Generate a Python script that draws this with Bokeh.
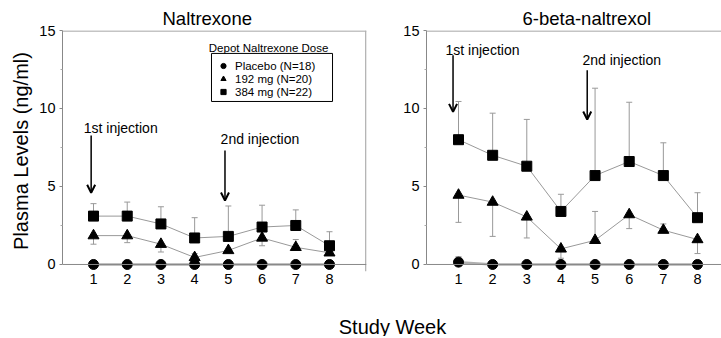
import math
import numpy as np
from bokeh.plotting import figure
from bokeh.models import (Range1d, Label, Arrow, OpenHead, Legend, LegendItem, FixedTicker, Span,
                          BoxAnnotation)
from bokeh.layouts import row, column
from bokeh.embed import file_html
from bokeh.resources import INLINE

nan = float("nan")
weeks = [1, 2, 3, 4, 5, 6, 7, 8]
x_tick_labels = ["1", "2", "3", "4", "5", "6", "7", "8"]
y_ticks = [0, 5, 10, 15]

# Naltrexone panel
nal_placebo = [0, 0, 0, 0, 0, 0, 0, 0]
nal_placebo_bar = [nan, nan, nan, nan, nan, nan, nan, nan]
nal_192 = [1.85, 1.85, 1.3, 0.45, 0.9, 1.7, 1.1, 0.75]
nal_192_bar = [1.3, 1.4, 0.8, 0.7, nan, 1.2, 1.6, nan]
nal_384 = [3.1, 3.1, 2.6, 1.7, 1.8, 2.4, 2.5, 1.2]
nal_384_bar = [3.9, 4.0, 3.7, 3.0, 3.75, 3.8, 3.5, 2.1]

# 6-beta-naltrexol panel
beta_placebo = [0.15, 0, 0, 0, 0, 0, 0, 0]
beta_placebo_bar = [0.5, nan, nan, nan, nan, nan, nan, nan]
beta_192 = [4.45, 4.0, 3.05, 1.0, 1.55, 3.2, 2.2, 1.6]
beta_192_bar = [2.7, 1.8, 1.7, 0.4, 3.4, 2.3, 2.6, 0.7]
beta_384 = [8.0, 7.0, 6.3, 3.4, 5.7, 6.6, 5.7, 3.0]
beta_384_bar = [10.45, 9.7, 9.3, 4.5, 11.3, 10.4, 7.8, 4.6]

legend_labels = ["Placebo (N=18)", "192 mg (N=20)", "384 mg (N=22)"]
FONT = "Liberation Sans"
GRAY = "#999999"
BORDER = "#b0b0b0"
AXIS = "#888888"


def make_panel(width, mbl, mbr, x0, x1, title, title_offset, right_border,
               placebo, placebo_bar, d192, d192_bar, d384, d384_bar):
    p = figure(width=width, height=300, x_range=Range1d(x0, x1), y_range=Range1d(-0.45, 15),
               min_border_left=mbl, min_border_right=mbr, min_border_top=30, min_border_bottom=29,
               toolbar_location=None, output_backend="svg")
    p.title.text = title
    p.title.align = "left"
    p.title.offset = title_offset
    p.title.standoff = 3
    p.title.text_font = FONT
    p.title.text_font_size = "18.5px"
    p.title.text_font_style = "normal"
    p.title.text_color = "black"
    p.xgrid.visible = False
    p.ygrid.visible = False
    p.outline_line_color = None
    p.background_fill_color = "white"
    p.border_fill_color = "white"
    p.add_layout(Span(location=14.97, dimension="width", line_color=BORDER, line_width=1.5))
    if right_border:
        p.add_layout(Span(location=x1 - 0.02, dimension="height", line_color=BORDER, line_width=1.5))
    # x axis line at zero
    p.add_layout(Span(location=0, dimension="width", line_color=AXIS, line_width=1))

    p.xaxis.ticker = FixedTicker(ticks=weeks, minor_ticks=[])
    p.xaxis.major_label_overrides = {w: l for w, l in zip(weeks, x_tick_labels)}
    p.xaxis.axis_line_color = None
    p.xaxis.major_tick_line_color = None
    p.xaxis.minor_tick_line_color = None
    p.xaxis.major_tick_in = 0
    p.xaxis.major_tick_out = 0
    p.xaxis.major_label_standoff = 2

    p.yaxis.ticker = FixedTicker(ticks=y_ticks, minor_ticks=[2.5, 7.5, 12.5])
    p.yaxis.bounds = (0, 15)
    p.yaxis.axis_line_color = AXIS
    p.yaxis.major_tick_line_color = AXIS
    p.yaxis.minor_tick_line_color = "#aaaaaa"
    p.yaxis.major_tick_in = 0
    p.yaxis.major_tick_out = 3
    p.yaxis.minor_tick_in = 0
    p.yaxis.minor_tick_out = 2
    p.yaxis.major_label_standoff = 4
    for ax in (p.xaxis[0], p.yaxis[0]):
        ax.major_label_text_font = FONT
        ax.major_label_text_font_size = "14.5px"
        ax.major_label_text_color = "black"

    # error bars
    for vals, bars in ((placebo, placebo_bar), (d192, d192_bar), (d384, d384_bar)):
        xs = [w for w, b in zip(weeks, bars) if not math.isnan(b)]
        ys = [v for v, b in zip(vals, bars) if not math.isnan(b)]
        es = [b for b in bars if not math.isnan(b)]
        if xs:
            p.segment(x0=xs, y0=ys, x1=xs, y1=es, line_color=GRAY, line_width=1)
            p.scatter(x=xs, y=es, marker="dash", size=6, line_color=GRAY, line_width=1)

    # connecting lines
    p.line(weeks, placebo, line_color=BORDER, line_width=2.5)
    p.line(weeks, d192, line_color=GRAY, line_width=1)
    p.line(weeks, d384, line_color=GRAY, line_width=1)

    r_c = p.scatter(weeks, placebo, marker="circle", size=10, fill_color="black", line_color="black")
    r_t = p.scatter(weeks, d192, marker="triangle", size=11, fill_color="black", line_color="black")
    r_s = p.scatter(weeks, d384, marker="square", size=10, fill_color="black", line_color="black")
    return p, (r_c, r_t, r_s)


def arrow(p, x, y0, y1):
    p.add_layout(Arrow(x_start=x, y_start=y0, x_end=x, y_end=y1, line_color="black", line_width=1.5,
                       end=OpenHead(size=8, line_width=2, line_color="black")))


def text(p, x, y, s, size, align="left"):
    p.add_layout(Label(x=x, y=y, text=s, text_font=FONT, text_font_size=size, text_color="black",
                       text_align=align, text_baseline="alphabetic"))


# left panel
p1, rs1 = make_panel(380, 62, 14, 0.080, 9.098, "Naltrexone", 100, True,
                     nal_placebo, nal_placebo_bar, nal_192, nal_192_bar, nal_384, nal_384_bar)
p1.yaxis.axis_label = "Plasma Levels (ng/ml)"
p1.yaxis.axis_label_text_font = FONT
p1.yaxis.axis_label_text_font_size = "20px"
p1.yaxis.axis_label_text_font_style = "normal"
p1.yaxis.axis_label_text_color = "black"
p1.yaxis.axis_label_standoff = 4
text(p1, 0.71, 8.78, "1st injection", "14px")
text(p1, 4.77, 8.06, "2nd injection", "14px")
arrow(p1, 0.93, 8.27, 4.6)
arrow(p1, 4.9, 7.3, 4.1)
text(p1, 4.42, 13.88, "Depot Naltrexone Dose", "11.5px")
legend = Legend(items=[LegendItem(label=l, renderers=[r]) for l, r in zip(legend_labels, rs1)],
                location=(151, 173), orientation="vertical",
                label_text_font=FONT, label_text_font_size="11.5px", label_text_color="black",
                glyph_width=20, glyph_height=13, label_height=13, label_standoff=2,
                padding=3, spacing=0, margin=0,
                border_line_color=None, background_fill_alpha=0.0)
p1.add_layout(legend)
p1.add_layout(BoxAnnotation(left=4.50, right=8.09, top=13.53, bottom=10.45,
                            fill_color=None, fill_alpha=0.0, line_color="black", line_width=1,
                            line_alpha=1.0))

# right panel
p2, rs2 = make_panel(341, 46, 0, 0.0627, 8.703, "6-beta-naltrexol", 96, False,
                     beta_placebo, beta_placebo_bar, beta_192, beta_192_bar, beta_384, beta_384_bar)
text(p2, 0.62, 13.78, "1st injection", "14px")
text(p2, 4.63, 13.1, "2nd injection", "14px")
arrow(p2, 0.84, 13.42, 9.78)
arrow(p2, 4.77, 12.45, 9.29)

# shared x label
p3 = figure(width=721, height=36, x_range=Range1d(0, 721), y_range=Range1d(0, 36),
            x_axis_type=None, y_axis_type=None,
            min_border_left=0, min_border_right=0, min_border_top=0, min_border_bottom=0,
            toolbar_location=None, output_backend="svg")
p3.outline_line_color = None
p3.xgrid.visible = False
p3.ygrid.visible = False
p3.add_layout(Label(x=392, y=10, text="Study Week", text_font=FONT, text_font_size="20px",
                    text_color="black", text_align="center", text_baseline="alphabetic"))

layout = column(row(p1, p2), p3)
open("out.html", "w").write(file_html(layout, INLINE))
